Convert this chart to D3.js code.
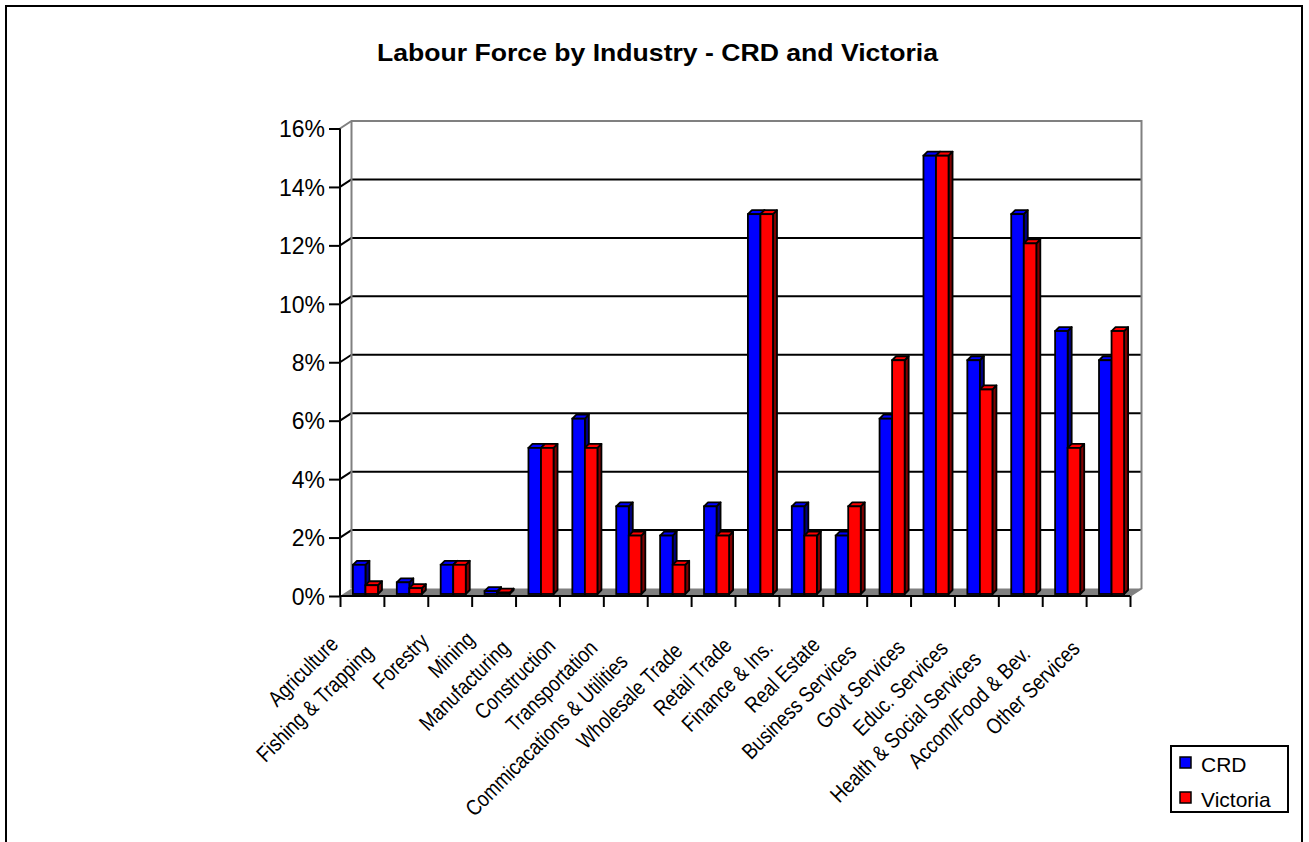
<!DOCTYPE html>
<html>
<head>
<meta charset="utf-8">
<script src="https://cdn.jsdelivr.net/npm/d3@7"></script>
<style>
  html, body { margin: 0; padding: 0; background: #fff; }
  svg { display: block; }
  text { font-family: "Liberation Sans", Arial, sans-serif; fill: #000; }
</style>
</head>
<body>
<svg id="chart" width="1309" height="842"></svg>
<script>
// Labour force share by industry (%)
const categories = [
  "Agriculture", "Fishing & Trapping", "Forestry", "Mining", "Manufacturing",
  "Construction", "Transportation", "Commicacations & Utilities", "Wholesale Trade",
  "Retail Trade", "Finance & Ins.", "Real Estate", "Business Services",
  "Govt Services", "Educ. Services", "Health & Social Services",
  "Accom/Food & Bev.", "Other Services"
];
const seriesNames = ["CRD", "Victoria"];
const crdValues      = [1.0, 0.4, 1.0, 0.1, 5, 6, 3, 2, 3, 13, 3, 2, 6, 15, 8, 13, 9, 8];
const victoriaValues = [0.3, 0.2, 1.0, 0.05, 5, 5, 2, 1, 2, 13, 2, 3, 8, 15, 7, 12, 5, 9];
const yTickValues = [0, 2, 4, 6, 8, 10, 12, 14, 16];

const colors = { CRD: "#0000ff", Victoria: "#ff0000" };
const sideColors = { CRD: "#000080", Victoria: "#800000" };

const svg = d3.select("#chart");

// outer frame
svg.append("rect").attr("x", 6).attr("y", 6).attr("width", 1296).attr("height", 860)
  .attr("fill", "#fff").attr("stroke", "#000").attr("stroke-width", 2);

// title
svg.append("text").attr("x", 657.5).attr("y", 61).attr("text-anchor", "middle")
  .attr("textLength", 561).attr("lengthAdjust", "spacingAndGlyphs")
  .style("font-size", "24px").style("font-weight", "bold")
  .text("Labour Force by Industry - CRD and Victoria");

// plot geometry (front plane + depth offset of the 3D box)
const x0 = 340, x1 = 1130;
const depthX = 11.5, depthY = 7.5;

const x = d3.scaleBand().domain(categories).range([x0, x1]).paddingInner(0).paddingOuter(0);
const y = d3.scaleLinear().domain([0, 16]).range([596, 128.5]);
const step = x.step();
const barW = step / 3.5;
const xs = d3.scaleBand().domain(seriesNames).range([0, 2 * barW]);

const g = svg.append("g");

// floor
g.append("polygon")
  .attr("points", [[x0, y(0)], [x0 + depthX, y(0) - depthY], [x1 + depthX, y(0) - depthY], [x1, y(0)]].join(" "))
  .attr("fill", "#808080");

// gridlines on side wall and back wall
const gridVals = yTickValues.filter(v => v > 0 && v < 16);
g.selectAll(".grid-back").data(gridVals).join("line")
  .attr("x1", x0 + depthX).attr("x2", x1 + depthX)
  .attr("y1", d => y(d) - depthY).attr("y2", d => y(d) - depthY)
  .attr("stroke", "#000").attr("stroke-width", 2);
g.selectAll(".grid-side").data(gridVals).join("line")
  .attr("x1", x0).attr("x2", x0 + depthX)
  .attr("y1", d => y(d)).attr("y2", d => y(d) - depthY)
  .attr("stroke", "#000").attr("stroke-width", 2);

// wall edges
const wallEdge = "#808080";
g.append("polyline")
  .attr("points", [[x0, y(16)], [x0 + depthX, y(16) - depthY], [x1 + depthX, y(16) - depthY], [x1 + depthX, y(0) - depthY], [x1, y(0)]].join(" "))
  .attr("fill", "none").attr("stroke", wallEdge).attr("stroke-width", 2);
g.append("line")
  .attr("x1", x0 + depthX).attr("x2", x0 + depthX)
  .attr("y1", y(16) - depthY).attr("y2", y(0) - depthY)
  .attr("stroke", wallEdge).attr("stroke-width", 2);

// bars (3D columns)
const barShiftX = 3.5, barShiftY = -2;
const bdx = 4, bdy = 4;
const rows = categories.map((c, i) => ({ c, vals: [
  { s: "CRD", v: crdValues[i] }, { s: "Victoria", v: victoriaValues[i] }
]}));
const cats = g.selectAll(".cat").data(rows).join("g");
cats.each(function(row) {
  const cg = d3.select(this);
  row.vals.forEach(d => {
    const bx = x(row.c) + (step - 2 * barW) / 2 + barShiftX + xs(d.s);
    const yt = y(d.v) + barShiftY, yb = y(0) + barShiftY;
    cg.append("polygon")
      .attr("points", [[bx + barW, yt], [bx + barW + bdx, yt - bdy], [bx + barW + bdx, yb - bdy], [bx + barW, yb]].join(" "))
      .attr("fill", sideColors[d.s]).attr("stroke", "#000").attr("stroke-width", 1.8).attr("stroke-linejoin", "round");
    cg.append("polygon")
      .attr("points", [[bx, yt], [bx + bdx, yt - bdy], [bx + barW + bdx, yt - bdy], [bx + barW, yt]].join(" "))
      .attr("fill", colors[d.s]).attr("stroke", "#000").attr("stroke-width", 1.8).attr("stroke-linejoin", "round");
    cg.append("rect")
      .attr("x", bx).attr("y", yt).attr("width", barW).attr("height", yb - yt)
      .attr("fill", colors[d.s]).attr("stroke", "#000").attr("stroke-width", 1.8);
  });
});

// value axis
const yAxis = d3.axisLeft(y).tickValues(yTickValues).tickSize(11).tickPadding(4).tickFormat(d => d + "%");
const yg = svg.append("g").attr("transform", `translate(${x0},0)`).call(yAxis);
yg.select(".domain").attr("stroke", "#000").attr("stroke-width", 2).attr("d", `M0,${y(16)}V${y(0)}`);
yg.selectAll(".tick line").attr("stroke", "#000").attr("stroke-width", 2);
yg.selectAll(".tick text").style("font-size", "23px").attr("font-family", null).attr("dy", "0.36em");

// category axis: ticks at category boundaries
const idx = d3.scaleLinear().domain([0, categories.length]).range([x0, x1]);
const xAxis = d3.axisBottom(idx).tickValues(d3.range(categories.length + 1)).tickSize(11).tickFormat("");
const xg = svg.append("g").attr("transform", `translate(0,${y(0)})`).call(xAxis);
xg.select(".domain").attr("stroke", "#000").attr("stroke-width", 2).attr("d", `M${x0},0H${x1}`);
xg.selectAll(".tick line").attr("stroke", "#000").attr("stroke-width", 2);

// rotated category labels: laid out at natural width, drawn condensed
const lg = svg.append("g");
categories.forEach(c => {
  const cx = x(c) + step / 2;
  const t = lg.append("text")
    .attr("transform", `translate(${cx},${y(0)}) rotate(-45)`)
    .attr("y", 19)
    .style("font-size", "22px")
    .text(c);
  const L = t.node().getComputedTextLength();
  t.attr("x", -34 - L)
    .attr("textLength", 0.84 * L).attr("lengthAdjust", "spacingAndGlyphs");
});

// legend
const leg = svg.append("g");
leg.append("rect").attr("x", 1171).attr("y", 746).attr("width", 117).attr("height", 66)
  .attr("fill", "#fff").attr("stroke", "#000").attr("stroke-width", 2);
seriesNames.forEach((s, i) => {
  const yy = 757 + i * 35;
  leg.append("rect").attr("x", 1180).attr("y", yy).attr("width", 11).attr("height", 11)
    .attr("fill", colors[s]).attr("stroke", "#000").attr("stroke-width", 1.5);
  leg.append("text").attr("x", 1201).attr("y", yy + 15).style("font-size", "21px").text(s);
});
</script>
</body>
</html>
